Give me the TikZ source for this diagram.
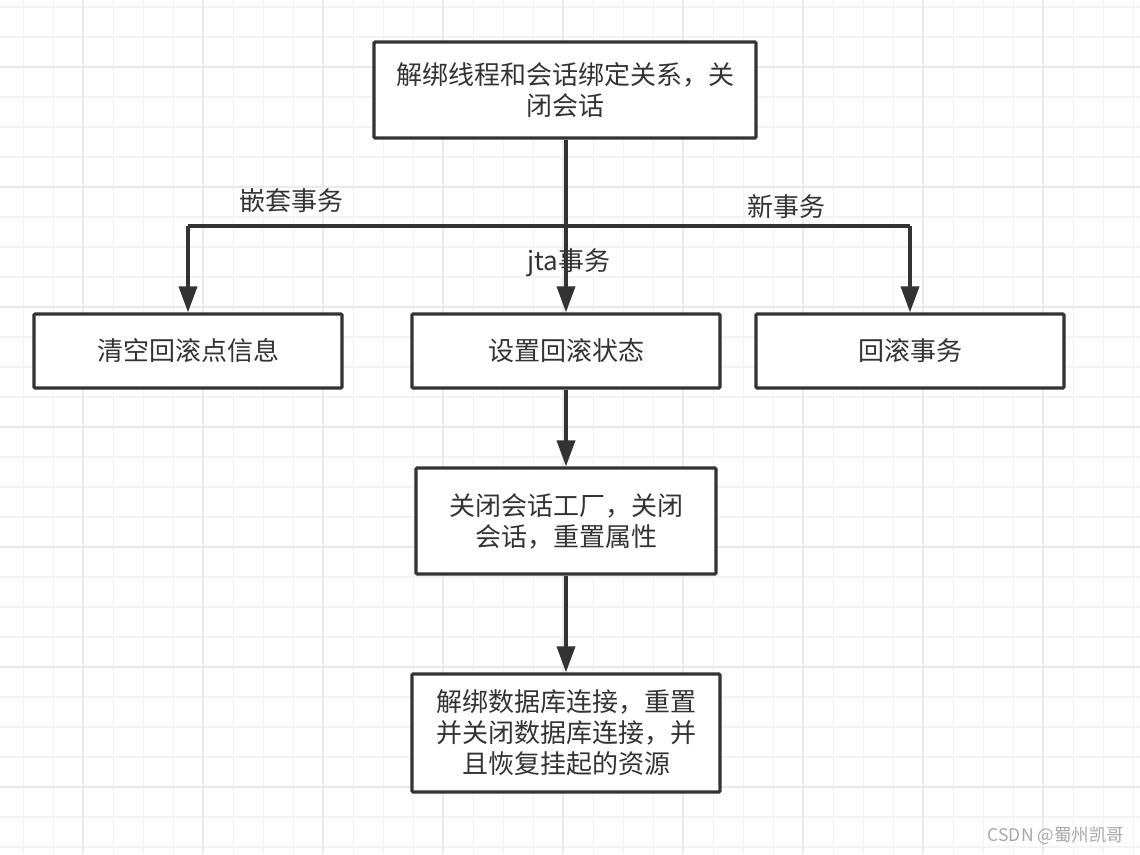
\documentclass[tikz,border=0pt]{standalone}
\usepackage{fontspec}
\setmainfont{Noto Sans CJK SC}
\usetikzlibrary{arrows.meta}
\definecolor{ink}{HTML}{333333}
\definecolor{gridminor}{HTML}{F3F3F3}
\definecolor{gridmajor}{HTML}{EAEAEA}
\definecolor{wm}{HTML}{A8A8A8}
\tikzset{
  box/.style={draw=ink, line width=3.2pt, fill=white, rounded corners=1.2pt, inner sep=0pt, align=center, text=ink, font=\fontsize{26}{31}\selectfont},
  lbl/.style={text=ink, inner sep=0pt, font=\fontsize{26}{31}\selectfont},
  conn/.style={draw=ink, line width=3.6pt, -{Triangle[length=26pt,width=18pt]}},
  seg/.style={draw=ink, line width=3.6pt}
}
\begin{document}
\begin{tikzpicture}[x=1pt,y=-1pt]
\useasboundingbox (0,0) rectangle (1140,854);
\fill[white] (0,0) rectangle (1140,854);
% grid
\foreach \i in {0,...,37} {
  \draw[gridminor, line width=1.6pt] ({23.3+30*\i},0) -- ({23.3+30*\i},854);
}
\foreach \i in {0,...,28} {
  \draw[gridminor, line width=1.6pt] (0,{6.7+30*\i}) -- (1140,{6.7+30*\i});
}
\foreach \i in {0,...,9} {
  \draw[gridmajor, line width=1.8pt] ({83.3+120*\i},0) -- ({83.3+120*\i},854);
}
\foreach \i in {0,...,6} {
  \draw[gridmajor, line width=1.8pt] (0,{66.7+120*\i}) -- (1140,{66.7+120*\i});
}
% nodes
\node[box, minimum width=382pt, minimum height=96pt] (top) at (565,90) {解绑线程和会话绑定关系，关\\闭会话};
\node[box, minimum width=308pt, minimum height=74pt] (left) at (188,351) {清空回滚点信息};
\node[box, minimum width=308pt, minimum height=74pt] (mid) at (566,351) {设置回滚状态};
\node[box, minimum width=308pt, minimum height=74pt] (right) at (910,351) {回滚事务};
\node[box, minimum width=300pt, minimum height=106pt] (close) at (566,521) {关闭会话工厂，关闭\\会话，重置属性};
\node[box, minimum width=308pt, minimum height=118pt] (unbind) at (566,733) {解绑数据库连接，重置\\并关闭数据库连接，并\\且恢复挂起的资源};
\coordinate (split) at (566,226);
\coordinate (lcorner) at (188,226);
\coordinate (rcorner) at (910,226);
% connectors
\draw[conn] (top.south -| split) -- (mid.north -| split);
\draw[seg] (lcorner) -- (rcorner);
\draw[conn] (lcorner) -- (left.north);
\draw[conn] (rcorner) -- (right.north);
\draw[conn] (mid.south -| split) -- (close.north -| split);
\draw[conn] (close.south -| split) -- (unbind.north -| split);
% labels
\node[lbl] (l1) at (291,201) {嵌套事务};
\node[lbl] (l2) at (786,207) {新事务};
\node[lbl] (l3) at (569,263) {jta事务};
% watermark
\node[text=wm, inner sep=0pt, font=\fontsize{17.5}{20}\selectfont] (wmk) at (1056,836) {CSDN @蜀州凯哥};
\end{tikzpicture}
\end{document}
